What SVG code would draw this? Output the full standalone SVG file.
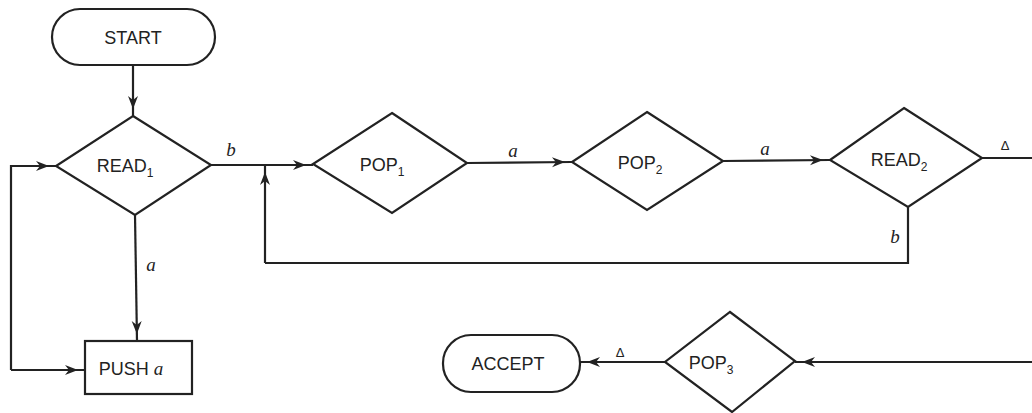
<svg xmlns="http://www.w3.org/2000/svg" width="1032" height="413" viewBox="0 0 1032 413">
<defs>
<marker id="arr" markerUnits="userSpaceOnUse" markerWidth="14" markerHeight="10" refX="20" refY="5" orient="auto" overflow="visible">
<path d="M0,0 L13,5 L0,10 L4,5 z" fill="#222"/>
</marker>
<style>
.shape{fill:#fff;stroke:#222;stroke-width:2.2}
.line{fill:none;stroke:#222;stroke-width:2.2}
.t{font-family:"Liberation Sans",Arial,sans-serif;font-size:18px;fill:#222;text-anchor:middle}
.s{font-size:12px}
.lab{font-family:"Liberation Serif","Times New Roman",serif;font-style:italic;font-size:19px;fill:#222;text-anchor:middle}
.dl{font-family:"Liberation Sans",Arial,sans-serif;font-size:13px;fill:#222;text-anchor:middle}
</style>
</defs>
<rect width="1032" height="413" fill="#fff"/>
<g id="connectors">
<path class="line" d="M133,65 L133,116" marker-end="url(#arr)"/>
<path class="line" d="M211,165 L313,165" marker-end="url(#arr)"/>
<path class="line" d="M265,263 L265,165" marker-end="url(#arr)"/>
<path class="line" d="M908,207 L908,263 L265,263"/>
<path class="line" d="M467,163 L572,162" marker-end="url(#arr)"/>
<path class="line" d="M723,161 L830,160" marker-end="url(#arr)"/>
<path class="line" d="M982,158 L1032,158"/>
<path class="line" d="M1032,362 L795,362" marker-end="url(#arr)"/>
<path class="line" d="M665,362 L580,362" marker-end="url(#arr)"/>
<path class="line" d="M135,215 L137,341" marker-end="url(#arr)"/>
<path class="line" d="M11,370 L85,370" marker-end="url(#arr)"/>
<path class="line" d="M11,370 L11,166 L56,166" marker-end="url(#arr)"/>
<text class="lab" x="231" y="156">b</text>
<text class="lab" x="513" y="157">a</text>
<text class="lab" x="765" y="155">a</text>
<text class="lab" x="895" y="243">b</text>
<text class="lab" x="151" y="271">a</text>
<text class="dl" x="1005" y="150">Δ</text>
<text class="dl" x="620" y="357">Δ</text>
</g>
<g id="start">
<rect class="shape" x="52" y="9" width="163" height="56" rx="28" ry="28"/>
<text class="t" x="133" y="44">START</text>
</g>
<g id="read1">
<polygon class="shape" points="133,116 211,165 135,215 56,166"/>
<text class="t" x="125" y="172">READ<tspan class="s" dy="5">1</tspan></text>
</g>
<g id="pop1">
<polygon class="shape" points="392,113 467,163 392,213 313,164"/>
<text class="t" x="382" y="171">POP<tspan class="s" dy="5">1</tspan></text>
</g>
<g id="pop2">
<polygon class="shape" points="647,112 723,161 647,210 572,162"/>
<text class="t" x="640" y="169">POP<tspan class="s" dy="5">2</tspan></text>
</g>
<g id="read2">
<polygon class="shape" points="904,108 982,158 908,207 830,160"/>
<text class="t" x="899" y="166">READ<tspan class="s" dy="5">2</tspan></text>
</g>
<g id="push">
<rect class="shape" x="85" y="341" width="107" height="53"/>
<text class="t" x="131" y="375">PUSH <tspan font-family="Liberation Serif, serif" font-style="italic" font-size="19">a</tspan></text>
</g>
<g id="pop3">
<polygon class="shape" points="730,312 795,361 732,412 665,362"/>
<text class="t" x="711" y="369">POP<tspan class="s" dy="5">3</tspan></text>
</g>
<g id="accept">
<rect class="shape" x="443" y="335" width="137" height="57" rx="28" ry="28"/>
<text class="t" x="508" y="370">ACCEPT</text>
</g>
</svg>
